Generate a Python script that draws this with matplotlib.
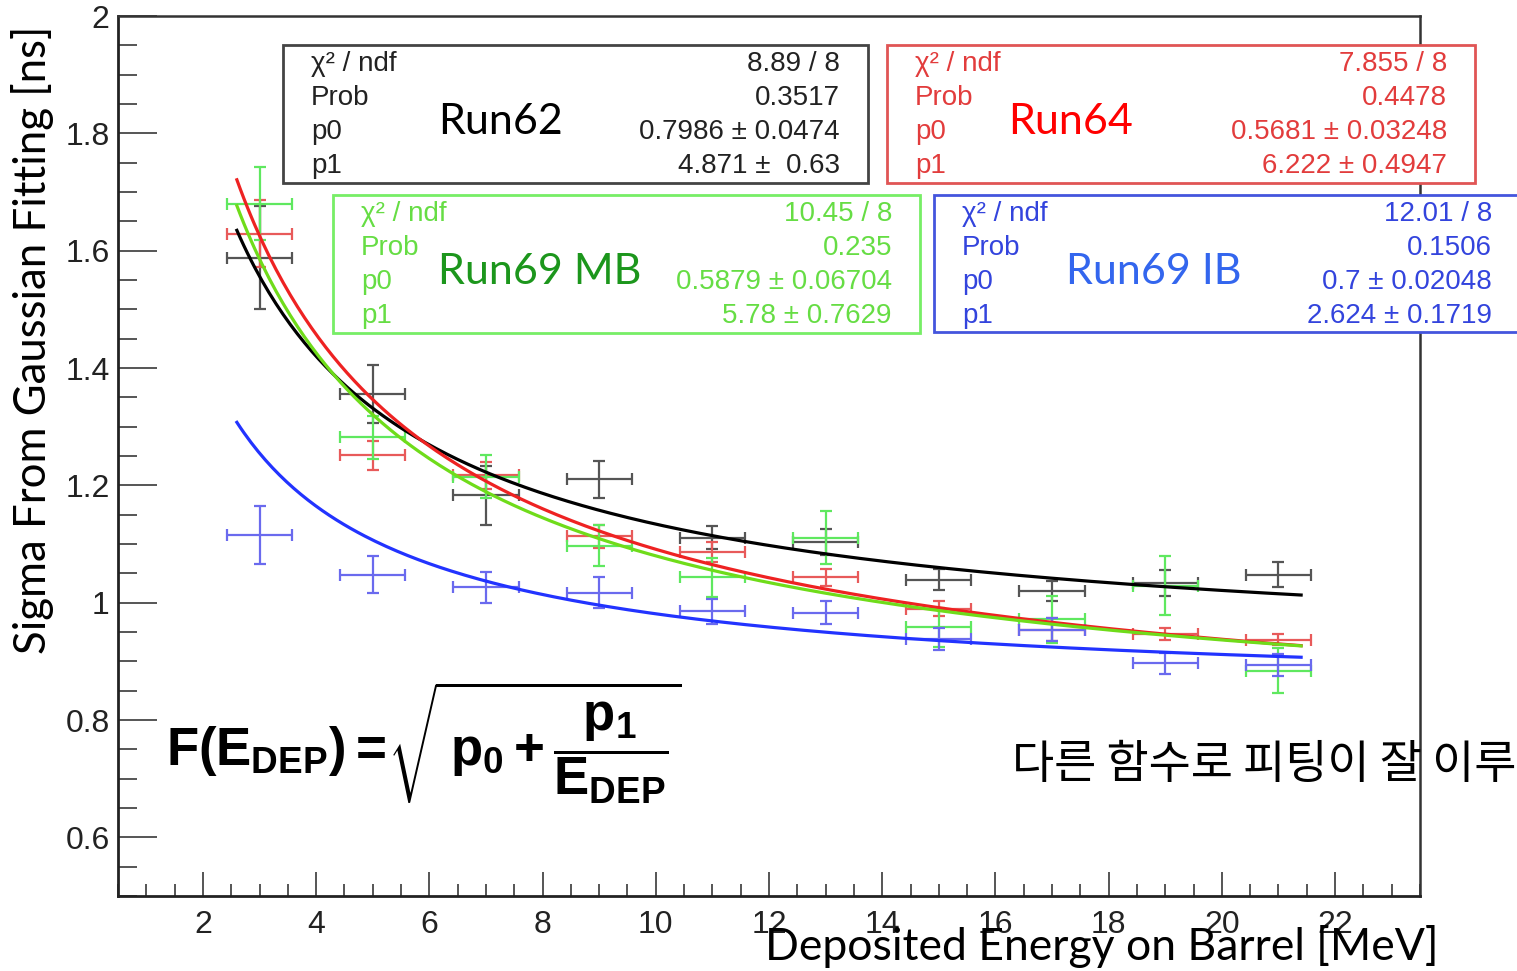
import numpy as np
import matplotlib
matplotlib.use("Agg")
import matplotlib.pyplot as plt
from matplotlib.patches import Rectangle
from matplotlib.ticker import MultipleLocator, FormatStrFormatter

W, H = 1517, 971

# measured widths of the gaussian peaks, one point per 2 MeV energy bin
energy = [3, 5, 7, 9, 11, 13, 15, 17, 19, 21]
energy_err = 0.575

sigma_run62 = [1.588, 1.356, 1.183, 1.210, 1.111, 1.103, 1.039, 1.020, 1.034, 1.048]
err_run62 = [0.088, 0.049, 0.050, 0.031, 0.020, 0.022, 0.018, 0.017, 0.022, 0.022]

sigma_run64 = [1.629, 1.251, 1.217, 1.113, 1.087, 1.043, 0.990, 0.954, 0.947, 0.937]
err_run64 = [0.057, 0.025, 0.023, 0.020, 0.017, 0.014, 0.012, 0.020, 0.010, 0.010]

sigma_run69mb = [1.680, 1.282, 1.215, 1.097, 1.043, 1.111, 0.958, 0.972, 1.029, 0.884]
err_run69mb = [0.062, 0.037, 0.037, 0.035, 0.033, 0.045, 0.033, 0.040, 0.050, 0.038]

sigma_run69ib = [1.115, 1.048, 1.026, 1.017, 0.985, 0.983, 0.938, 0.954, 0.897, 0.894]
err_run69ib = [0.049, 0.032, 0.027, 0.026, 0.021, 0.020, 0.019, 0.020, 0.018, 0.019]

# fit results F = sqrt(p0 + p1/E)
fit_run62 = (0.7986, 4.871)
fit_run64 = (0.5681, 6.222)
fit_run69mb = (0.5879, 5.78)
fit_run69ib = (0.7, 2.624)
fit_range = (2.6, 21.4)

stat_names = ["χ² / ndf", "Prob", "p0", "p1"]
stats_run62 = ["8.89 / 8", "0.3517", "0.7986 ± 0.0474", "4.871 ±  0.63"]
stats_run64 = ["7.855 / 8", "0.4478", "0.5681 ± 0.03248", "6.222 ± 0.4947"]
stats_run69mb = ["10.45 / 8", "0.235", "0.5879 ± 0.06704", "5.78 ± 0.7629"]
stats_run69ib = ["12.01 / 8", "0.1506", "0.7 ± 0.02048", "2.624 ± 0.1719"]


def px(x, y):
    return x / W, 1 - y / H


plt.rcParams["mathtext.fontset"] = "custom"
plt.rcParams["mathtext.rm"] = "Liberation Sans:bold"
plt.rcParams["mathtext.it"] = "Liberation Sans:bold"
plt.rcParams["mathtext.bf"] = "Liberation Sans:bold"

fig = plt.figure(figsize=(W / 100, H / 100), dpi=100)
ax = fig.add_axes([118 / W, 1 - 896 / H, (1420 - 118) / W, (896 - 16) / H])

runs = [
    (sigma_run62, err_run62, fit_run62, "black", "#555555"),
    (sigma_run64, err_run64, fit_run64, "#ee2222", "#e85a5a"),
    (sigma_run69mb, err_run69mb, fit_run69mb, "#6fdc1a", "#5fe85f"),
    (sigma_run69ib, err_run69ib, fit_run69ib, "#2233ff", "#6a6aee"),
]

e_fit = np.linspace(fit_range[0], fit_range[1], 300)
for sigma, err, (p0, p1), line_col, bar_col in runs:
    ax.errorbar(energy, sigma, xerr=energy_err, yerr=err, fmt="none",
                ecolor=bar_col, elinewidth=1.6, capsize=4, capthick=1.6, zorder=2)
for sigma, err, (p0, p1), line_col, bar_col in runs:
    ax.plot(e_fit, np.sqrt(p0 + p1 / e_fit), color=line_col, lw=2.3, zorder=3)

ax.set_xlim(0.5, 23.5)
ax.set_ylim(0.5, 2.0)
ax.xaxis.set_major_locator(MultipleLocator(2))
ax.xaxis.set_minor_locator(MultipleLocator(0.5))
ax.yaxis.set_major_locator(MultipleLocator(0.2))
ax.yaxis.set_minor_locator(MultipleLocator(0.05))
ax.yaxis.set_major_formatter(FormatStrFormatter("%g"))
ax.tick_params(axis="x", which="major", direction="in", length=17, width=1.4,
               color="#555555", pad=10, labelsize=23, labelcolor="#222222")
ax.tick_params(axis="x", which="minor", direction="in", length=8.5, width=1.4, color="#555555")
ax.tick_params(axis="y", which="major", direction="in", length=28, width=1.4,
               color="#555555", pad=6, labelsize=23, labelcolor="#222222")
ax.tick_params(axis="y", which="minor", direction="in", length=14, width=1.4, color="#555555")
for lab in ax.get_xticklabels() + ax.get_yticklabels():
    lab.set_fontfamily("Liberation Sans")
for side in ["left", "bottom"]:
    ax.spines[side].set_linewidth(2.0)
    ax.spines[side].set_color("#222222")
for side in ["top", "right"]:
    ax.spines[side].set_linewidth(1.8)
    ax.spines[side].set_color("#333333")

# fit statistics boxes
boxes = [
    (283, 45, 585, 138, stats_run62, "#444444", "#222222", "Run62", "black", 438),
    (887, 45, 588, 138, stats_run64, "#e05555", "#e23c3c", "Run64", "#ff0000", 1008),
    (333, 195, 587, 138, stats_run69mb, "#77ee66", "#66dd44", "Run69 MB", "#1c961c", 438),
    (934, 195, 600, 137, stats_run69ib, "#4455dd", "#3344dd", "Run69 IB", "#3366ee", 1066),
]
for bx, by, bw, bh, values, edge, txt, run_name, run_col, run_x in boxes:
    fig.add_artist(Rectangle(px(bx, by + bh), bw / W, bh / H, transform=fig.transFigure,
                             facecolor="white", edgecolor=edge, lw=2.0, zorder=5))
    right = min(bx + bw - 28, 1492)
    for i, (name, val) in enumerate(zip(stat_names, values)):
        yrow = by + 19 + 34 * i
        fig.text(*px(bx + 28, yrow), name, ha="left", va="center", fontsize=20,
                 family="Liberation Sans", color=txt, zorder=6)
        fig.text(*px(right, yrow), val, ha="right", va="center", fontsize=20,
                 family="Liberation Sans", color=txt, zorder=6)
    fig.text(*px(run_x, by + 77), run_name, ha="left", va="center", fontsize=31,
             family="Lato", color=run_col, zorder=6)

fig.text(*px(166, 766),
         r"$F(E_{DEP}) =\!\sqrt{\,p_{0} + \dfrac{p_{1}}{E_{DEP}}}$",
         ha="left", va="baseline", fontsize=38, color="black", zorder=6)

fig.text(*px(1012, 778), "다른 함수로 피팅이 잘 이루", ha="left", va="baseline",
         fontsize=33, family=["Noto Sans CJK KR", "DejaVu Sans"], color="black")

fig.text(*px(1102, 960), "Deposited Energy on Barrel [MeV]", ha="center", va="baseline",
         fontsize=32, family="Lato", color="black")
fig.text(*px(33, 340), "Sigma From Gaussian Fitting [ns]", ha="center", va="center",
         rotation=90, fontsize=31.5, family="Lato", color="black")

fig.savefig("out.png", dpi=100)
